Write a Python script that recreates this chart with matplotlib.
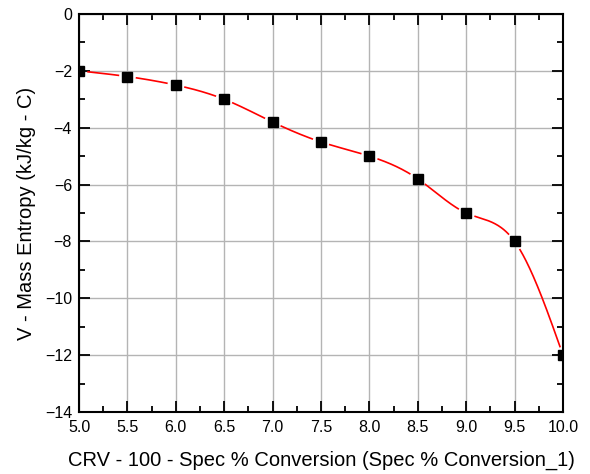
import numpy as np
import matplotlib

matplotlib.use("Agg")
import matplotlib.pyplot as plt
from matplotlib.ticker import MultipleLocator, FormatStrFormatter

plt.rcParams.update({"font.family": ["Liberation Sans", "DejaVu Sans"]})

conversion = [5.0, 5.5, 6.0, 6.5, 7.0, 7.5, 8.0, 8.5, 9.0, 9.5, 10.0]
entropy = [-2.0, -2.2, -2.5, -3.0, -3.8, -4.5, -5.0, -5.8, -7.0, -8.0, -12.0]

X_LABEL = "CRV - 100 - Spec % Conversion (Spec % Conversion_1)"
Y_LABEL = "V - Mass Entropy (kJ/kg - C)"


def natural_spline(x, y, xs):
    x = np.asarray(x, float)
    y = np.asarray(y, float)
    n = len(x)
    h = np.diff(x)
    A = np.zeros((n, n))
    b = np.zeros(n)
    A[0, 0] = A[-1, -1] = 1.0
    for i in range(1, n - 1):
        A[i, i - 1] = h[i - 1]
        A[i, i] = 2 * (h[i - 1] + h[i])
        A[i, i + 1] = h[i]
        b[i] = 6 * ((y[i + 1] - y[i]) / h[i] - (y[i] - y[i - 1]) / h[i - 1])
    m = np.linalg.solve(A, b)
    idx = np.clip(np.searchsorted(x, xs) - 1, 0, n - 2)
    x0, x1 = x[idx], x[idx + 1]
    hh = x1 - x0
    t0, t1 = x1 - xs, xs - x0
    return (m[idx] * t0**3 / (6 * hh) + m[idx + 1] * t1**3 / (6 * hh)
            + (y[idx] / hh - m[idx] * hh / 6) * t0
            + (y[idx + 1] / hh - m[idx + 1] * hh / 6) * t1)


fig = plt.figure(figsize=(5.9, 4.74), dpi=100)
ax = fig.add_axes([79 / 590, 1 - 412 / 474, 484 / 590, 398 / 474])
ax.set_xlim(5.0, 10.0)
ax.set_ylim(-14, 0)

xs = np.linspace(conversion[0], conversion[-1], 800)
ys = natural_spline(conversion, entropy, xs)

# Origin-style gaps in the line around each marker
fig.canvas.draw()
pts = ax.transData.transform(np.column_stack([xs, ys]))
mk = ax.transData.transform(np.column_stack([conversion, entropy]))
for px, py in mk:
    near = np.hypot(pts[:, 0] - px, pts[:, 1] - py) < 9
    ys[near] = np.nan

ax.plot(xs, ys, color="red", lw=1.2, zorder=3)
ax.plot(conversion, entropy, ls="none", marker="s", ms=6.5,
        color="black", zorder=4)

ax.xaxis.set_major_locator(MultipleLocator(0.5))
ax.xaxis.set_minor_locator(MultipleLocator(0.25))
ax.yaxis.set_major_locator(MultipleLocator(2))
ax.yaxis.set_minor_locator(MultipleLocator(1))
ax.xaxis.set_major_formatter(FormatStrFormatter("%.1f"))
ax.grid(True, which="major", color="#b4b4b4", lw=1.0, zorder=0)
ax.set_axisbelow(True)

ax.tick_params(which="both", direction="in", top=True, right=True,
               labelsize=11.5, width=1.3)
ax.tick_params(axis="x", pad=6)
ax.tick_params(axis="y", pad=5)
ax.tick_params(which="major", length=8)
ax.tick_params(which="minor", length=4)
for s in ax.spines.values():
    s.set_linewidth(1.5)

ax.set_xlabel(X_LABEL, fontsize=14.5, labelpad=11)
ax.set_ylabel(Y_LABEL, fontsize=14.5, labelpad=6)

fig.savefig("out.png", dpi=100, facecolor="white")
